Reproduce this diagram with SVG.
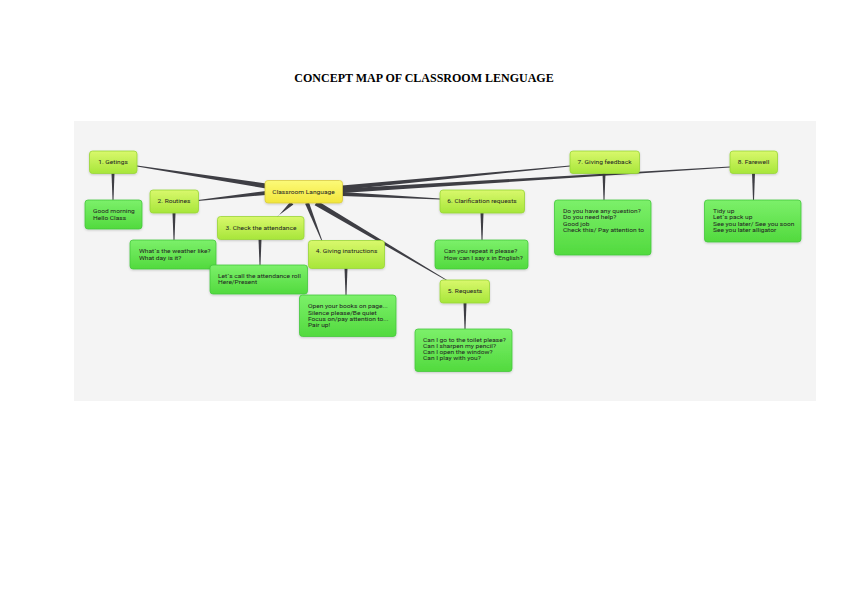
<svg xmlns="http://www.w3.org/2000/svg" width="848" height="600" viewBox="0 0 848 600">
<defs>
<linearGradient id="gTopic" x1="0" y1="0" x2="0" y2="1">
<stop offset="0" stop-color="#d9f86c"/><stop offset="1" stop-color="#a7e63a"/>
</linearGradient>
<linearGradient id="gChild" x1="0" y1="0" x2="0" y2="1">
<stop offset="0" stop-color="#7cf06a"/><stop offset="1" stop-color="#52da3e"/>
</linearGradient>
<linearGradient id="gCentral" x1="0" y1="0" x2="0" y2="1">
<stop offset="0" stop-color="#fcfa78"/><stop offset="1" stop-color="#f2e63c"/>
</linearGradient>
<filter id="sh" x="-10%" y="-10%" width="120%" height="130%">
<feDropShadow dx="0" dy="1" stdDeviation="0.8" flood-color="#000" flood-opacity="0.18"/>
</filter>
</defs>
<style>
.topic{fill:url(#gTopic);stroke:#98d636;stroke-width:0.8;filter:url(#sh)}
.child{fill:url(#gChild);stroke:#44c83c;stroke-width:0.8;filter:url(#sh)}
.central{fill:url(#gCentral);stroke:#d8cc40;stroke-width:0.8;filter:url(#sh)}
.conn{fill:#3e3e44}
text{font-family:Roboto,"Liberation Sans",sans-serif;font-size:5.8px;fill:#222}
.c{text-anchor:middle}
.title{font-family:"Liberation Serif",serif;font-weight:bold;font-size:12px;fill:#000;text-anchor:middle}
</style>
<rect x="0" y="0" width="848" height="600" fill="#ffffff"/>
<rect x="74" y="121" width="742" height="280" fill="#f4f4f4"/>
<text class="title" x="424" y="82">CONCEPT MAP OF CLASSROOM LENGUAGE</text>

<g id="connectors">
<polygon class="conn" points="266,183.5 266,188.5 137,166.4 137,165.6"/>
<polygon class="conn" points="266,191 266,195 198,200.9 198,200.1"/>
<polygon class="conn" points="293.4,204.5 290.6,201.5 277.2,217.2 276.8,216.8"/>
<polygon class="conn" points="305.1,203.7 308.9,202.3 322.4,240.9 321.6,241.1"/>
<polygon class="conn" points="314.7,205.2 317.3,200.8 448.2,280.7 447.8,281.3"/>
<polygon class="conn" points="342,192 342,196 440,199.4 440,198.6"/>
<polygon class="conn" points="342,185.5 342,190 570,166.4 570,165.6"/>
<polygon class="conn" points="342,188.5 342,193 730,167.4 730,166.6"/>
<polygon class="conn" points="111.5,173 114.5,173 113.5,200 112.5,200"/>
<polygon class="conn" points="172.5,213 175.5,213 174.5,240 173.5,240"/>
<polygon class="conn" points="258.5,239 261.5,239 260.5,265 259.5,265"/>
<polygon class="conn" points="344.5,268 347.5,268 346.5,295 345.5,295"/>
<polygon class="conn" points="480.5,213 483.5,213 482.5,240 481.5,240"/>
<polygon class="conn" points="463.5,303 466.5,303 465.5,329 464.5,329"/>
<polygon class="conn" points="602.5,173 605.5,173 604.5,200 603.5,200"/>
<polygon class="conn" points="752,173 755,173 754,200 753,200"/>
</g>

<g id="central">
<rect class="central" x="265" y="180.5" width="77.5" height="22.5" rx="3"/>
<g transform="translate(303.5,0) scale(1.14,1)"><text class="c" x="0" y="193.8">Classroom Language</text></g>
</g>

<g id="n1">
<rect class="topic" x="89.5" y="151" width="47.5" height="22.5" rx="3"/>
<g transform="translate(113,0) scale(1.14,1)"><text class="c" x="0" y="164.2">1. Getings</text></g>
</g>
<g id="n1c">
<rect class="child" x="85" y="200" width="57" height="29" rx="3"/>
<g transform="translate(93,0) scale(1.14,1)">
<text x="0" y="213.5">Good morning</text>
<text x="0" y="220">Hello Class</text>
</g>
</g>

<g id="n2">
<rect class="topic" x="150" y="190" width="48.5" height="23" rx="3"/>
<g transform="translate(174,0) scale(1.14,1)"><text class="c" x="0" y="203.3">2. Routines</text></g>
</g>
<g id="n2c">
<rect class="child" x="130" y="240" width="86" height="29" rx="3"/>
<g transform="translate(139,0) scale(1.14,1)">
<text x="0" y="253.5">What´s the weather like?</text>
<text x="0" y="260">What day is it?</text>
</g>
</g>

<g id="n3">
<rect class="topic" x="217.5" y="216.5" width="86.5" height="23" rx="3"/>
<g transform="translate(261,0) scale(1.14,1)"><text class="c" x="0" y="229.8">3. Check the attendance</text></g>
</g>
<g id="n3c">
<rect class="child" x="210" y="265" width="97.5" height="29" rx="3"/>
<g transform="translate(218,0) scale(1.14,1)">
<text x="0" y="277.8">Let´s call the attendance roll</text>
<text x="0" y="284.5">Here/Present</text>
</g>
</g>

<g id="n4">
<rect class="topic" x="308.5" y="240.5" width="76" height="28" rx="3"/>
<g transform="translate(346.5,0) scale(1.14,1)"><text class="c" x="0" y="253.3">4. Giving instructions</text></g>
</g>
<g id="n4c">
<rect class="child" x="299.5" y="295" width="96.5" height="41.5" rx="3"/>
<g transform="translate(308,0) scale(1.14,1)">
<text x="0" y="308.3">Open your books on page...</text>
<text x="0" y="314.6">Silence please/Be quiet</text>
<text x="0" y="320.9">Focus on/pay attention to...</text>
<text x="0" y="327.2">Pair up!</text>
</g>
</g>

<g id="n6">
<rect class="topic" x="440" y="190" width="84.5" height="23" rx="3"/>
<g transform="translate(482,0) scale(1.14,1)"><text class="c" x="0" y="203.3">6. Clarification requests</text></g>
</g>
<g id="n6c">
<rect class="child" x="435" y="240" width="93" height="29" rx="3"/>
<g transform="translate(444,0) scale(1.14,1)">
<text x="0" y="253.5">Can you repeat it please?</text>
<text x="0" y="260">How can I say x in English?</text>
</g>
</g>

<g id="n5">
<rect class="topic" x="440" y="280" width="49.5" height="23" rx="3"/>
<g transform="translate(465,0) scale(1.14,1)"><text class="c" x="0" y="293.3">5. Requests</text></g>
</g>
<g id="n5c">
<rect class="child" x="415" y="329" width="97" height="42.5" rx="3"/>
<g transform="translate(423,0) scale(1.14,1)">
<text x="0" y="342.3">Can I go to the toilet please?</text>
<text x="0" y="348.3">Can I sharpen my pencil?</text>
<text x="0" y="354.3">Can I open the window?</text>
<text x="0" y="360.3">Can I play with you?</text>
</g>
</g>

<g id="n7">
<rect class="topic" x="570" y="151" width="69.5" height="22.5" rx="3"/>
<g transform="translate(604.5,0) scale(1.14,1)"><text class="c" x="0" y="164.2">7. Giving feedback</text></g>
</g>
<g id="n7c">
<rect class="child" x="554.5" y="200" width="96.5" height="55" rx="3"/>
<g transform="translate(563,0) scale(1.14,1)">
<text x="0" y="213">Do you have any question?</text>
<text x="0" y="219.5">Do you need help?</text>
<text x="0" y="226">Good job</text>
<text x="0" y="232.5">Check this/ Pay attention to</text>
</g>
</g>

<g id="n8">
<rect class="topic" x="730" y="151" width="47.5" height="22.5" rx="3"/>
<g transform="translate(753.5,0) scale(1.14,1)"><text class="c" x="0" y="164.2">8. Farewell</text></g>
</g>
<g id="n8c">
<rect class="child" x="704.5" y="200" width="96.5" height="42" rx="3"/>
<g transform="translate(713,0) scale(1.14,1)">
<text x="0" y="213">Tidy up</text>
<text x="0" y="219.5">Let´s pack up</text>
<text x="0" y="226">See you later/ See you soon</text>
<text x="0" y="232.5">See you later alligator</text>
</g>
</g>
</svg>
